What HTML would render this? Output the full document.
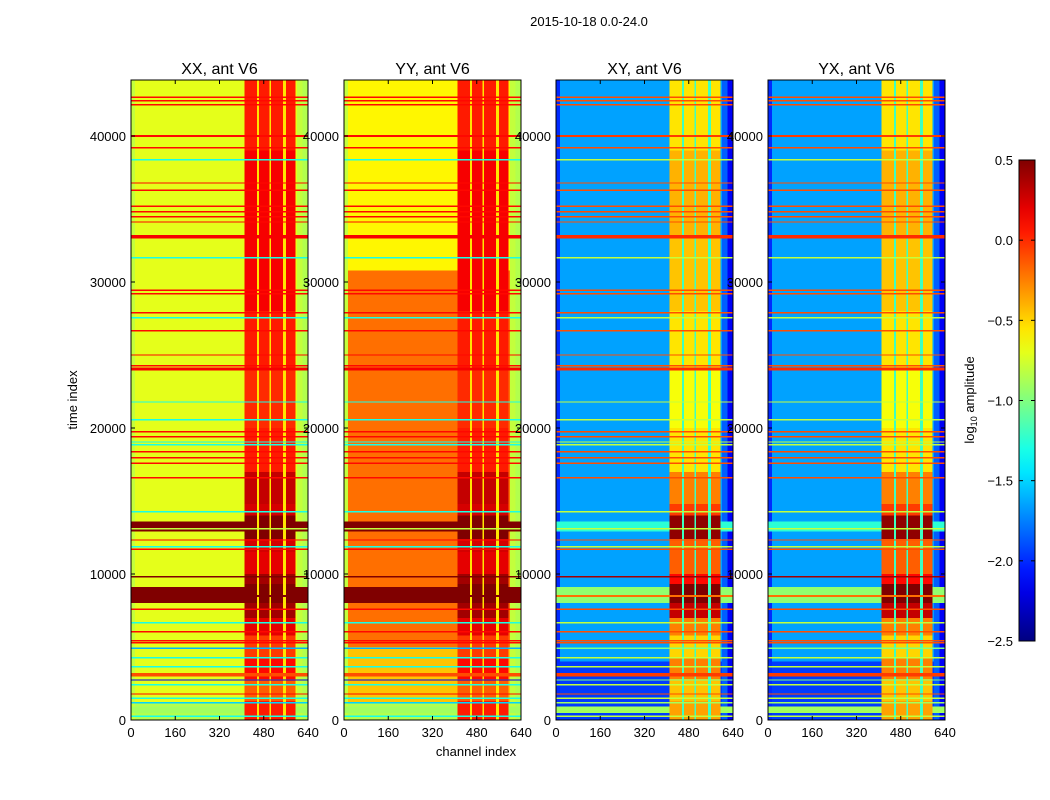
<!DOCTYPE html>
<html><head><meta charset="utf-8"><style>
body{margin:0;background:#fff}
svg{display:block;font-family:"Liberation Sans","DejaVu Sans",sans-serif}
</style></head><body>
<svg id="fig" width="1050" height="800" viewBox="0 0 1050 800" xmlns="http://www.w3.org/2000/svg">
<rect width="1050" height="800" fill="#fff"/>
<text x="589" y="26" font-size="13" text-anchor="middle">2015-10-18 0.0-24.0</text>
<text transform="translate(77,400) rotate(-90)" font-size="13" text-anchor="middle">time index</text>
<text x="476" y="756" font-size="13" text-anchor="middle">channel index</text>
<g id="panels"></g>
<g id="cbar"></g>
</svg>
<script>
// ---- data ----
const panelNames = ["XX, ant V6","YY, ant V6","XY, ant V6","YX, ant V6"];
const panelKinds = ["auto","auto","cross","cross"];
const xTicks = [0,160,320,480,640];
const yTicks = [0,10000,20000,30000,40000];
const cbarTicks = [0.5,0.0,-0.5,-1.0,-1.5,-2.0,-2.5];
const cbarLabels = ["0.5","0.0","\u22120.5","\u22121.0","\u22121.5","\u22122.0","\u22122.5"];
const baseXX = [[0,1200,-0.85],[1200,43800,-0.7]];
const baseYY = [[0,1200,-0.85],[1200,5000,-0.45],[5000,30800,-0.2],[30800,43800,-0.6]];
const baseXY = [[0,4000,-1.95],[4000,43800,-1.65]];
const baseYX = [[0,4000,-1.95],[4000,43800,-1.65]];
const edgeCols = [[0,15,-0.8,-2.0],[600,620,-0.8,-1.85],[620,640,-0.85,-2.15]];
const rfiCols = [[410,455],[462,500],[507,550],[560,595]];
const rfiGapAuto = -0.55, rfiGapCross = -1.2;
const rfiStart = [0,1300,2800,4300,5800,7000,8000,9300,10000,11500,12400,14000,14800,17000,20000,24000,28000,33000,39000];
const rfiEnd   = [1300,2800,4300,5800,7000,8000,9300,10000,11500,12400,14000,14800,17000,20000,24000,28000,33000,39000,43800];
const rfiAuto  = [0.05,-0.15,0.1,-0.05,0.2,0.4,0.55,0.4,0.2,0.25,0.5,0.25,0.3,0.05,0.0,0.05,0.15,0.15,0.05];
const rfiCross = [-0.35,-0.45,-0.25,-0.5,-0.25,0.3,0.5,0.1,-0.15,-0.15,0.45,-0.05,-0.25,-0.55,-0.65,-0.55,-0.45,-0.4,-0.55];
const lineT = [42670,42400,42130,40000,39180,38360,36780,36300,35200,34800,34460,34110,33100,31650,29450,29180,27880,27540,26650,25000,24250,24040,21780,20550,19730,19390,19040,18840,18360,17950,17600,16580,14270,13250,13100,12330,11870,11710,9820,8570,8500,7600,6670,6050,5430,5300,4930,4250,3650,3100,2740,2400,1780,1500,1190,700,250];
const lineW = [100,100,100,120,100,100,100,100,100,100,100,100,250,100,100,100,100,100,100,100,100,200,100,100,100,100,100,100,100,100,100,100,100,700,80,100,100,100,80,1100,150,100,100,100,100,100,100,100,100,250,100,100,100,100,100,450,100];
const lineAuto = [0.1,0.1,0.1,0.1,0.1,-1.3,0.1,0.1,0.1,0.1,0.1,0.1,0.15,-1.3,0.1,0.1,0.1,-1.3,0.1,0.1,0.1,0.15,-1.3,-1.3,0.1,0.1,-1.3,-1.3,0.1,0.1,0.1,0.1,-1.3,0.5,-0.8,0.1,-1.3,0.1,0.5,0.5,0.5,0.1,-1.3,0.1,0.1,0.1,-1.6,-1.3,-1.3,-0.1,-2.2,-1.3,0.1,-1.3,-1.5,-0.9,-1.3];
const lineCross = [-0.1,-0.1,-0.1,-0.05,-0.1,-0.8,-0.1,-0.1,-0.1,-0.1,-0.1,-0.1,0.0,-0.8,-0.1,-0.1,-0.1,-0.8,-0.1,-0.1,-0.1,0.0,-0.8,-0.8,-0.1,-0.1,-0.8,-0.8,-0.1,-0.1,-0.1,-0.1,-0.8,-1.25,-0.8,-0.1,-0.8,-0.1,0.4,-0.95,-0.2,-0.1,-0.8,-0.1,-0.1,-0.1,-1.0,-0.8,-0.8,-0.05,-1.0,-0.8,-0.1,-0.8,-0.9,-0.9,-0.8];

{
const panelX = [131,344,556,768], panelW = 177, plotTop = 80, plotBottom = 720;
const tMax = 43836, chMax = 640, vmin = -2.5, vmax = 0.5;
const NS = "http://www.w3.org/2000/svg";
function yS(t){return plotBottom - t/tMax*(plotBottom-plotTop);}
function xS(p,c){return panelX[p] + c/chMax*panelW;}
function jet(v){
  let t=(v-vmin)/(vmax-vmin); t=Math.max(0,Math.min(1,t));
  const cl=x=>Math.round(255*Math.max(0,Math.min(1,x)));
  return `rgb(${cl(1.5-Math.abs(4*t-3))},${cl(1.5-Math.abs(4*t-2))},${cl(1.5-Math.abs(4*t-1))})`;
}
function mk(tag,attrs,parent){const e=document.createElementNS(NS,tag);for(const k in attrs)e.setAttribute(k,attrs[k]);parent.appendChild(e);return e;}
function cell(g,p,c0,c1,t0,t1,v){
  const y0=yS(t1), y1=yS(t0); let h=Math.max(1.3,y1-y0);
  const r=mk("rect",{x:xS(p,c0),y:y0,width:xS(p,c1)-xS(p,c0),height:h,fill:jet(v)},g);
  
  
}
const panelsG=document.getElementById("panels");
const bases=[baseXX,baseYY,baseXY,baseYX];
for(let p=0;p<4;p++){
  const cross = panelKinds[p]==="cross";
  const g=mk("g",{},panelsG);
  
  
  const hm=mk("g",{"shape-rendering":"crispEdges"},g);
  bases[p].forEach(b=>cell(hm,p,0,chMax,b[0],b[1],b[2]));
  edgeCols.forEach(e=>cell(hm,p,e[0],e[1],0,tMax,cross?e[3]:e[2]));
  for(let i=0;i<lineT.length;i++){ if(lineW[i]>=400) cell(hm,p,0,chMax,lineT[i]-lineW[i]/2,lineT[i]+lineW[i]/2,cross?lineCross[i]:lineAuto[i]); }
  cell(hm,p,rfiCols[0][0],rfiCols[3][1],0,tMax,cross?rfiGapCross:rfiGapAuto);
  for(let s=0;s<rfiStart.length;s++){
    rfiCols.forEach(c=>cell(hm,p,c[0],c[1],rfiStart[s],rfiEnd[s],cross?rfiCross[s]:rfiAuto[s]));
  }
  for(let i=0;i<lineT.length;i++){ if(lineW[i]<400) cell(hm,p,0,chMax,lineT[i]-lineW[i]/2,lineT[i]+lineW[i]/2,cross?lineCross[i]:lineAuto[i]); }
  const fr=mk("rect",{x:panelX[p],y:plotTop,width:panelW,height:plotBottom-plotTop,fill:"none",stroke:"#000","stroke-width":1},g);
  
  
  const tt=mk("text",{x:panelX[p]+panelW/2,y:74,"font-size":16,"text-anchor":"middle"},g);
  tt.textContent=panelNames[p];
  
  
  xTicks.forEach(v=>{
    const x=xS(p,v);
    mk("line",{x1:x,x2:x,y1:plotBottom,y2:plotBottom-4,stroke:"#000"},g);
    mk("line",{x1:x,x2:x,y1:plotTop,y2:plotTop+4,stroke:"#000"},g);
    const t=mk("text",{x:x,y:plotBottom+17,"font-size":13,"text-anchor":"middle"},g);
    t.textContent=v;
    
    
  });
  yTicks.forEach(v=>{
    const y=yS(v);
    mk("line",{x1:panelX[p],x2:panelX[p]+4,y1:y,y2:y,stroke:"#000"},g);
    mk("line",{x1:panelX[p]+panelW,x2:panelX[p]+panelW-4,y1:y,y2:y,stroke:"#000"},g);
    const t=mk("text",{x:panelX[p]-5,y:y+5,"font-size":13,"text-anchor":"end"},g);
    t.textContent=v;
    
    
  });
}
const cb=document.getElementById("cbar");
const cbX=1019,cbW=16,cbT=160,cbB=641;
const defs=mk("defs",{},cb);
const lg=mk("linearGradient",{id:"jetg",x1:0,y1:1,x2:0,y2:0},defs);
for(let i=0;i<=20;i++){mk("stop",{offset:i/20,"stop-color":jet(vmin+(vmax-vmin)*i/20)},lg);}
mk("rect",{x:cbX,y:cbT,width:cbW,height:cbB-cbT,fill:"url(#jetg)",stroke:"#000"},cb);
cbarTicks.forEach((v,i)=>{
  const y=cbB-(v-vmin)/(vmax-vmin)*(cbB-cbT);
  mk("line",{x1:cbX,x2:cbX+4,y1:y,y2:y,stroke:"#000"},cb);
  mk("line",{x1:cbX+cbW,x2:cbX+cbW-4,y1:y,y2:y,stroke:"#000"},cb);
  const t=mk("text",{x:1013,y:y+5,"font-size":13,"text-anchor":"end"},cb);
  t.textContent=cbarLabels[i];
  
  
});
const cl=mk("text",{transform:"translate(974,400) rotate(-90)","font-size":13,"text-anchor":"middle"},cb);
cl.innerHTML='log<tspan font-size="9" dy="3">10</tspan><tspan dy="-3"> amplitude</tspan>';


}
</script>
</body></html>
